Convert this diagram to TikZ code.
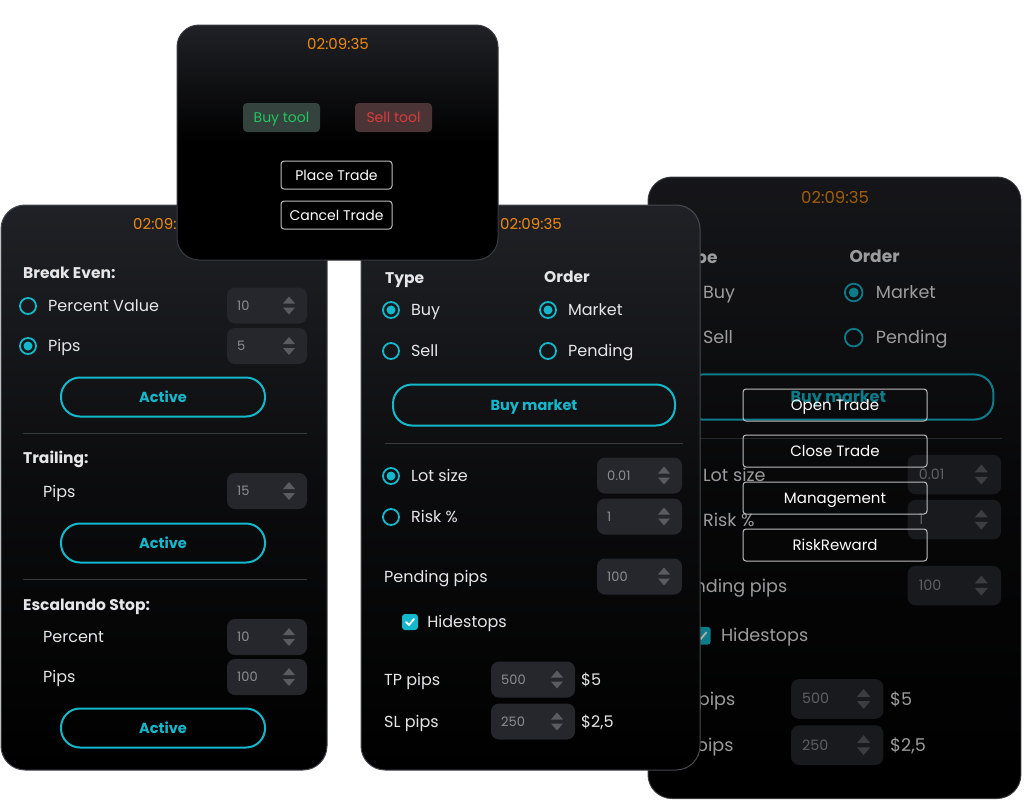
\documentclass[tikz,border=0pt]{standalone}
\usepackage{fontspec}
\setmainfont{Poppins}
\usepackage{xcolor}
\usepackage{tikz}
\usetikzlibrary{positioning}
\definecolor{appcyan}{HTML}{14B8CC}
\definecolor{apporange}{HTML}{EE8A0C}
\definecolor{paneltop}{HTML}{202126}
\definecolor{fieldgray}{HTML}{26272C}
\definecolor{edgegray}{HTML}{48494E}
\definecolor{sepgray}{HTML}{3A3B40}
\definecolor{txtwhite}{HTML}{E6E6E8}
\definecolor{numgray}{HTML}{8C8D92}
\definecolor{spingray}{HTML}{5A5B60}
\definecolor{buyfill}{HTML}{34433E}
\definecolor{buytxt}{HTML}{22C55E}
\definecolor{sellfill}{HTML}{4A3435}
\definecolor{selltxt}{HTML}{DC3B3B}
\definecolor{btnedge}{HTML}{BDBDC0}

\newcommand\fs[1]{\fontsize{#1}{#1}\selectfont}

% spin field: name, cx, cy, width, value
\newcommand\spinbox[5]{%
  \node[field, minimum width=#4pt] (#1) at (#2,#3) {};
  \node[numtxt] (#1-val) at ({#2-#4/2+10},#3) {#5};
  \fill[spingray] ({#2+#4/2-24},{#3-2}) -- ({#2+#4/2-12},{#3-2}) -- ({#2+#4/2-18},{#3-9}) -- cycle;
  \fill[spingray] ({#2+#4/2-24},{#3+2}) -- ({#2+#4/2-12},{#3+2}) -- ({#2+#4/2-18},{#3+9}) -- cycle;
}
% radio button: name, x, y, label
\newcommand\radiobtn[4]{%
  \node[radio] (#1) at (#2,#3) {};
  \node[lbl, right=11pt of #1] (#1-lbl) {#4};
}
\newcommand\radioon[4]{%
  \radiobtn{#1}{#2}{#3}{#4}
  \fill[appcyan] (#1.center) circle (4.5);
}

% order panel (middle and right)
\newcommand\orderpanel[1]{%
  \path[panel] (0,0) rectangle (339,565);
  \node[clock] (#1-clock) at (170,19) {02:09:35};
  \node[head] (#1-type) at (24,73) {Type};
  \node[head] (#1-order) at (183,72) {Order};
  \radioon{#1-buy}{30}{105}{Buy}
  \radioon{#1-market}{187}{105}{Market}
  \radiobtn{#1-sell}{30}{146}{Sell}
  \radiobtn{#1-pending}{187}{146}{Pending}
  \node[pill, minimum width=282pt, minimum height=41pt] (#1-buymkt) at (173,200) {Buy market};
  \draw[sep] (24,238) -- (322,238);
  \radioon{#1-lot}{30}{271}{Lot size}
  \spinbox{#1-lotf}{278.5}{270.5}{85}{0.01}
  \radiobtn{#1-risk}{30}{312}{Risk \%}
  \spinbox{#1-riskf}{278.5}{311.5}{85}{1}
  \node[lbl] (#1-pend) at (23,372) {Pending pips};
  \spinbox{#1-pendf}{278.5}{371.5}{85}{100}
  \node[check] (#1-hide) at (49,417) {};
  \draw[white, line width=1.8pt, line cap=round, line join=round]
    (45,417) -- (48,420) -- (53,414);
  \node[lbl, right=9pt of #1-hide] (#1-hide-lbl) {Hidestops};
  \node[lbl] (#1-tp) at (23,475) {TP pips};
  \spinbox{#1-tpf}{172}{474.5}{84}{500}
  \node[lbl] (#1-tpusd) at (220,475) {\$5};
  \node[lbl] (#1-sl) at (23,517) {SL pips};
  \spinbox{#1-slf}{172}{516.5}{84}{250}
  \node[lbl] (#1-slusd) at (220,517) {\$2,5};
}

\begin{document}
\begin{tikzpicture}[
  x=1pt, y=-1pt,
  panel/.style={
    draw=edgegray, line width=1pt, rounded corners=24pt,
    top color=paneltop, bottom color=black, middle color=paneltop!35!black
  },
  clock/.style={inner sep=0, text=apporange, font=\fs{15}, text height=10.5pt, text depth=0pt},
  lbl/.style={anchor=west, inner sep=0, text=txtwhite, font=\fs{16}, text height=11pt, text depth=0pt},
  head/.style={lbl, font=\fs{15.5}\bfseries, text height=11pt},
  numtxt/.style={anchor=west, inner sep=0, text=numgray, font=\fs{13}, text height=9pt, text depth=0pt},
  field/.style={fill=fieldgray, rounded corners=8pt, minimum height=36pt, inner sep=0},
  radio/.style={circle, draw=appcyan, line width=1.8pt, minimum size=16pt, inner sep=0},
  check/.style={rectangle, fill=appcyan, rounded corners=3pt, minimum size=16pt, inner sep=0},
  pill/.style={
    draw=appcyan, line width=2pt, rounded corners=19pt,
    minimum width=204pt, minimum height=39pt, inner sep=0,
    text=appcyan, font=\fs{14.5}\bfseries, text height=10pt, text depth=0pt
  },
  sep/.style={sepgray, line width=1pt},
  menu/.style={
    draw=btnedge, line width=1pt, rounded corners=3pt,
    minimum width=184pt, minimum height=32pt, inner sep=0,
    text=white, font=\fs{15}, text height=10.5pt, text depth=0pt
  },
  trade/.style={menu, minimum width=111pt, minimum height=28pt, font=\fs{14}, text height=10pt},
  tool/.style={
    rounded corners=4pt, minimum width=77pt, minimum height=29pt, inner sep=0,
    font=\fs{14}, text height=10pt, text depth=0pt
  },
]
\useasboundingbox (0,0) rectangle (1024,801);
\clip (0,0) rectangle (1024,801);
\fill[white] (0,0) rectangle (1024,801);

% Right panel (behind, dimmed)
\begin{scope}[shift={(648,177)}, scale=1.1, transform shape]
  \orderpanel{rp}
  \fill[black, opacity=0.32, rounded corners=24pt] (0,0) rectangle (339,565);
\end{scope}

% Trade menu
\node[menu] (open) at (835,405) {Open Trade};
\node[menu] (close) at (835,451) {Close Trade};
\node[menu] (manage) at (835,498) {Management};
\node[menu] (riskrw) at (835,545) {RiskReward};

% Middle panel
\begin{scope}[shift={(361,205)}]
  \orderpanel{mp}
\end{scope}

% Left panel
\path[panel] (1,205) rectangle (327,770);
\node[clock] (lp-clock) at (164,224) {02:09:35};
\node[head] (be) at (23,273) {Break Even:};
\radiobtn{be-pct}{28}{306}{Percent Value}
\spinbox{be-pctf}{267}{305.5}{80}{10}
\radioon{be-pips}{28}{346}{Pips}
\spinbox{be-pipsf}{267}{346}{80}{5}
\node[pill] (be-act) at (163,397) {Active};
\draw[sep] (23,433) -- (307,433);
\node[head] (tr) at (23,458) {Trailing:};
\node[lbl] (tr-pips) at (43,492) {Pips};
\spinbox{tr-pipsf}{267}{491}{80}{15}
\node[pill] (tr-act) at (163,543) {Active};
\draw[sep] (23,579) -- (307,579);
\node[head] (es) at (23,605) {Escalando Stop:};
\node[lbl] (es-pct) at (43,637) {Percent};
\spinbox{es-pctf}{267}{637}{80}{10}
\node[lbl] (es-pips) at (43,677) {Pips};
\spinbox{es-pipsf}{267}{677}{80}{100}
\node[pill] (es-act) at (163,728) {Active};

% Top popup
\path[panel, draw=sepgray, rounded corners=22pt, middle color=black] (177,25) rectangle (498,260);
\node[clock] (tp-clock) at (338,44) {02:09:35};
\node[tool, fill=buyfill, text=buytxt] (buytool) at (281.5,117.5) {Buy tool};
\node[tool, fill=sellfill, text=selltxt] (selltool) at (393.5,117.5) {Sell tool};
\node[trade] (place) at (336.5,175) {Place Trade};
\node[trade] (cancel) at (336.5,215) {Cancel Trade};

\end{tikzpicture}
\end{document}
